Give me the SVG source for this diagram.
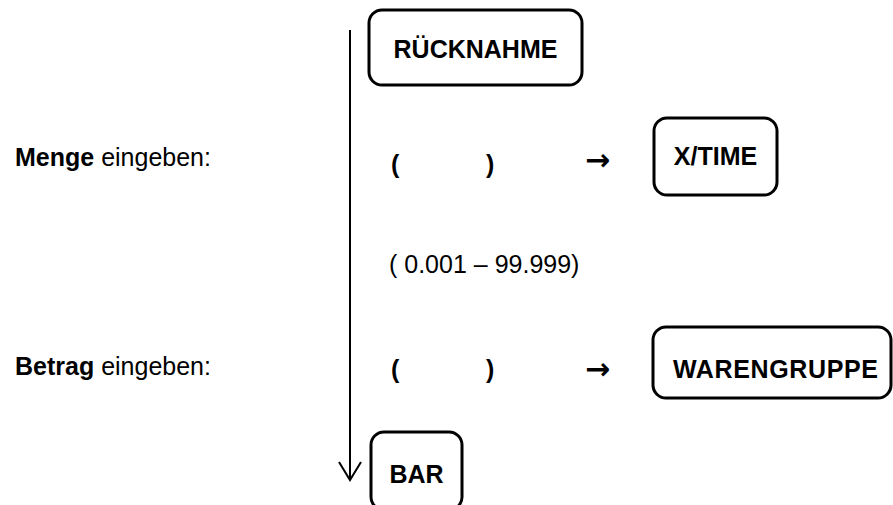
<svg xmlns="http://www.w3.org/2000/svg" width="893" height="505" viewBox="0 0 893 505">
<style>
  .box{fill:#fff;stroke:#000;stroke-width:3}
  .key{font-family:"Liberation Sans",Arial,sans-serif;font-weight:bold;font-size:25px;fill:#000}
  .txt{font-family:"Liberation Sans",Arial,sans-serif;font-size:25px;fill:#000}
  .b{font-weight:bold}
  .arr{font-family:"DejaVu Sans",sans-serif;font-weight:bold;font-size:30px;fill:#000}
  .flow{stroke:#000;stroke-width:2;fill:none}
</style>
<rect width="893" height="505" fill="#fff"/>
<g id="connectors">
  <line class="flow" x1="350" y1="30" x2="350" y2="479"/>
  <path class="flow" d="M339,462 L350,480 L361,462"/>
</g>
<g id="label-menge">
  <text class="txt" x="15" y="166"><tspan class="b">Menge</tspan> eingeben:</text>
</g>
<g id="label-betrag">
  <text class="txt" x="15" y="375"><tspan class="b">Betrag</tspan> eingeben:</text>
</g>
<g id="node-ruecknahme">
  <rect class="box" x="369" y="10" width="213" height="75" rx="13"/>
  <text class="key" x="475.5" y="58" text-anchor="middle">RÜCKNAHME</text>
</g>
<g id="input-menge">
  <text class="key" x="391" y="173">(</text>
  <text class="key" x="486" y="173">)</text>
  <text class="arr" x="585" y="170">→</text>
</g>
<g id="node-xtime">
  <rect class="box" x="654" y="118" width="123" height="77" rx="13"/>
  <text class="key" x="715.5" y="165" text-anchor="middle">X/TIME</text>
</g>
<g id="range">
  <text class="txt" x="389" y="273">( 0.001 – 99.999)</text>
</g>
<g id="input-betrag">
  <text class="key" x="391" y="378">(</text>
  <text class="key" x="486" y="378">)</text>
  <text class="arr" x="585" y="379">→</text>
</g>
<g id="node-warengruppe">
  <rect class="box" x="653" y="327" width="238" height="71" rx="13"/>
  <text class="key" x="673" y="378" textLength="205">WARENGRUPPE</text>
</g>
<g id="node-bar">
  <rect class="box" x="371" y="432" width="91" height="78" rx="13"/>
  <text class="key" x="416.5" y="483" text-anchor="middle">BAR</text>
</g>
</svg>
